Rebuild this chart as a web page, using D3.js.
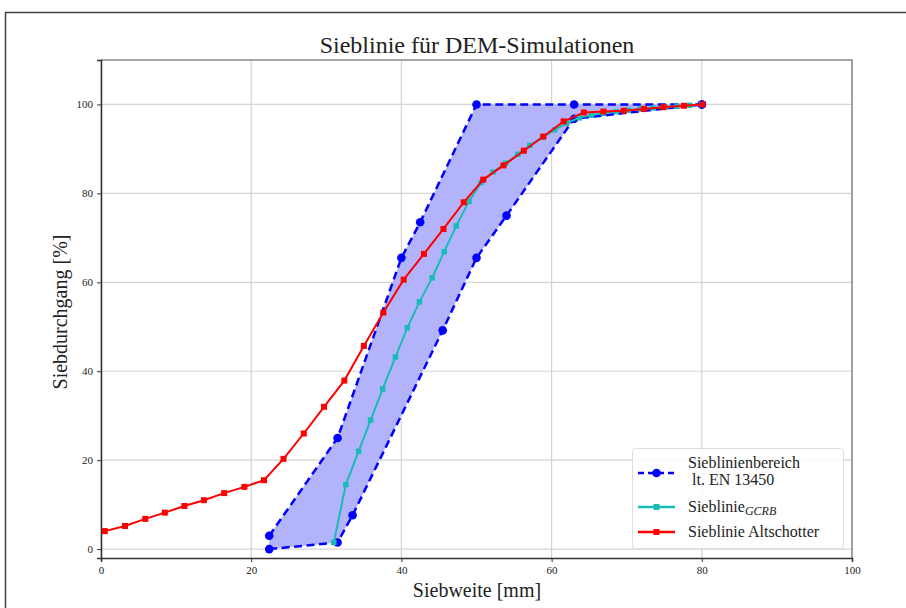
<!DOCTYPE html>
<html>
<head>
<meta charset="utf-8">
<script src="https://cdn.jsdelivr.net/npm/d3@7"></script>
<style>
  body { margin: 0; background: #fff; }
  svg text { font-family: "Liberation Serif", "DejaVu Serif", serif; fill: #222; }
</style>
</head>
<body>
<div id="chart"></div>
<script>
// Sieblinienbereich lt. EN 13450 (upper / lower boundary)
var band_upper_x = [22.4, 31.5, 40, 42.5, 50, 63, 80];
var band_upper_y = [3, 25, 65.5, 73.5, 100, 100, 100];
var band_lower_x = [22.4, 31.5, 33.5, 45.5, 50, 54, 63, 80];
var band_lower_y = [0, 1.5, 7.6, 49.2, 65.5, 75, 96.8, 100];

// Sieblinie GCRB
var gcrb_x = [31.0, 32.6, 34.3, 35.9, 37.5, 39.2, 40.8, 42.4, 44.1, 45.7, 47.3, 49.0, 50.6, 52.2, 53.9, 55.5,
    57.1, 58.8, 60.4, 62.0, 63.7, 65.3, 66.9, 68.6, 70.2, 71.8, 73.5, 75.1, 76.7, 78.4, 80.0];
var gcrb_y = [1.5, 14.5, 22, 29, 36, 43.2, 49.8, 55.6, 61, 66.9, 72.7, 78.2, 82.4, 84.8, 86.8, 88.8,
    90.8, 92.6, 94.3, 95.8, 97, 97.6, 98, 98.4, 98.7, 99, 99.2, 99.4, 99.6, 99.8, 100];

// Sieblinie Altschotter
var alt_x = [0.5, 3.2, 5.9, 8.5, 11.1, 13.7, 16.4, 19.1, 21.7, 24.3, 27.0, 29.7, 32.4, 35.0, 37.6, 40.3,
    43.0, 45.6, 48.3, 50.9, 53.6, 56.3, 58.9, 61.6, 64.3, 66.9, 69.6, 72.3, 74.9, 77.6, 80.1];
var alt_y = [4.05, 5.2, 6.8, 8.2, 9.7, 11, 12.6, 14, 15.5, 20.3, 26, 32, 37.9, 45.7, 53.2, 60.6,
    66.4, 72, 78, 83.1, 86.3, 89.6, 92.8, 96.2, 98.2, 98.4, 98.6, 99, 99.4, 99.7, 100];

var x_ticks = [0, 20, 40, 60, 80, 100];
var y_ticks = [0, 20, 40, 60, 80, 100];

const width = 906, height = 608;
const margin = { top: 60, right: 54, bottom: 50, left: 101 };

const svg = d3.select("#chart").append("svg")
    .attr("width", width)
    .attr("height", height);

// outer frame of the figure
svg.append("path")
    .attr("d", "M5.5," + height + " L5.5,12.5 L" + width + ",12.5")
    .attr("fill", "none")
    .attr("stroke", "#444")
    .attr("stroke-width", 1.5);

const x = d3.scaleLinear().domain([0, 100]).range([margin.left, width - margin.right]);
const y = d3.scaleLinear().domain([-2, 110]).range([height - margin.bottom, margin.top]);

// grid
svg.append("g").selectAll("line").data(x_ticks).join("line")
    .attr("x1", d => x(d)).attr("x2", d => x(d))
    .attr("y1", y(-2)).attr("y2", y(110))
    .attr("stroke", "#d4d4d4").attr("stroke-width", 1.2);
svg.append("g").selectAll("line").data(y_ticks).join("line")
    .attr("x1", x(0)).attr("x2", x(100))
    .attr("y1", d => y(d)).attr("y2", d => y(d))
    .attr("stroke", "#d4d4d4").attr("stroke-width", 1.2);

// top / right spines
svg.append("path")
    .attr("d", "M" + x(0) + "," + y(110) + " L" + x(100) + "," + y(110) + " L" + x(100) + "," + y(-2))
    .attr("fill", "none").attr("stroke", "#8a8a8a").attr("stroke-width", 1.5);

// axes
const xAxis = svg.append("g")
    .attr("transform", "translate(0," + y(-2) + ")")
    .call(d3.axisBottom(x).tickValues(x_ticks).tickSize(4).tickPadding(4));
const yAxis = svg.append("g")
    .attr("transform", "translate(" + x(0) + ",0)")
    .call(d3.axisLeft(y).tickValues(y_ticks).tickSize(4).tickPadding(4));
[xAxis, yAxis].forEach(a => {
    a.attr("font-family", null);
    a.select(".domain").attr("stroke", "#333").attr("stroke-width", 1.5);
    a.selectAll(".tick line").attr("stroke", "#333");
    a.selectAll(".tick text").style("font-size", "11px").attr("fill", "#222");
});

// band fill
var upperPts = band_upper_x.map((v, i) => [v, band_upper_y[i]]);
var lowerPts = band_lower_x.map((v, i) => [v, band_lower_y[i]]);
var poly = upperPts.concat(lowerPts.slice().reverse());
svg.append("path")
    .attr("d", d3.line().x(d => x(d[0])).y(d => y(d[1]))(poly) + "Z")
    .attr("fill", "#b3b3fb");

const line = d3.line().x(d => x(d[0])).y(d => y(d[1]));

// blue dashed boundaries
[upperPts, lowerPts].forEach(pts => {
    svg.append("path")
        .attr("d", line(pts))
        .attr("fill", "none")
        .attr("stroke", "#0000ff")
        .attr("stroke-width", 2.5)
        .attr("stroke-dasharray", "8,4.5");
    svg.append("g").selectAll("circle").data(pts).join("circle")
        .attr("cx", d => x(d[0])).attr("cy", d => y(d[1]))
        .attr("r", 4.3).attr("fill", "#0000ff");
});

// GCRB
var gcrbPts = gcrb_x.map((v, i) => [v, gcrb_y[i]]);
svg.append("path").attr("d", line(gcrbPts))
    .attr("fill", "none").attr("stroke", "#19bcb4").attr("stroke-width", 2);
svg.append("g").selectAll("rect").data(gcrbPts).join("rect")
    .attr("x", d => x(d[0]) - 2.75).attr("y", d => y(d[1]) - 2.75)
    .attr("width", 5.5).attr("height", 5.5).attr("fill", "#19bcb4");

// Altschotter
var altPts = alt_x.map((v, i) => [v, alt_y[i]]);
svg.append("path").attr("d", line(altPts))
    .attr("fill", "none").attr("stroke", "#ff0000").attr("stroke-width", 2);
svg.append("g").selectAll("rect").data(altPts).join("rect")
    .attr("x", d => x(d[0]) - 3).attr("y", d => y(d[1]) - 3)
    .attr("width", 6).attr("height", 6).attr("fill", "#ff0000");

// title and labels
svg.append("text").attr("x", 477).attr("y", 53).attr("text-anchor", "middle")
    .style("font-size", "24px").text("Sieblinie für DEM-Simulationen");
svg.append("text").attr("x", 477).attr("y", 597).attr("text-anchor", "middle")
    .style("font-size", "20px").text("Siebweite [mm]");
svg.append("text").attr("transform", "translate(67,312) rotate(-90)").attr("text-anchor", "middle")
    .style("font-size", "20px").text("Siebdurchgang [%]");

// legend
const lg = svg.append("g").attr("transform", "translate(632,448)");
lg.append("rect").attr("x", 0.5).attr("y", 0.5).attr("width", 211).attr("height", 100).attr("rx", 3)
    .attr("fill", "#fff").attr("fill-opacity", 0.85).attr("stroke", "#ddd");
const legend_items = [
    { yy: 25, color: "#0000ff", dash: "6,4", marker: "circle" },
    { yy: 59, color: "#19bcb4", dash: null, marker: "rect" },
    { yy: 84, color: "#ff0000", dash: null, marker: "rect" }
];
legend_items.forEach(it => {
    lg.append("line").attr("x1", 6).attr("x2", 43).attr("y1", it.yy).attr("y2", it.yy)
        .attr("stroke", it.color).attr("stroke-width", 2.5).attr("stroke-dasharray", it.dash);
    if (it.marker == "circle") {
        lg.append("circle").attr("cx", 24.5).attr("cy", it.yy).attr("r", 4.3).attr("fill", it.color);
    } else {
        lg.append("rect").attr("x", 21.5).attr("y", it.yy - 3).attr("width", 6).attr("height", 6).attr("fill", it.color);
    }
});
lg.append("text").attr("x", 56).attr("y", 20).style("font-size", "16px").text("Sieblinienbereich");
lg.append("text").attr("x", 60).attr("y", 37).style("font-size", "16px").text("lt. EN 13450");
const t2 = lg.append("text").attr("x", 56).attr("y", 64).style("font-size", "16px");
t2.append("tspan").text("Sieblinie");
t2.append("tspan").attr("dy", 3).style("font-size", "12px").style("font-style", "italic").text("GCRB");
lg.append("text").attr("x", 56).attr("y", 89).style("font-size", "16px").text("Sieblinie Altschotter");
</script>
</body>
</html>
